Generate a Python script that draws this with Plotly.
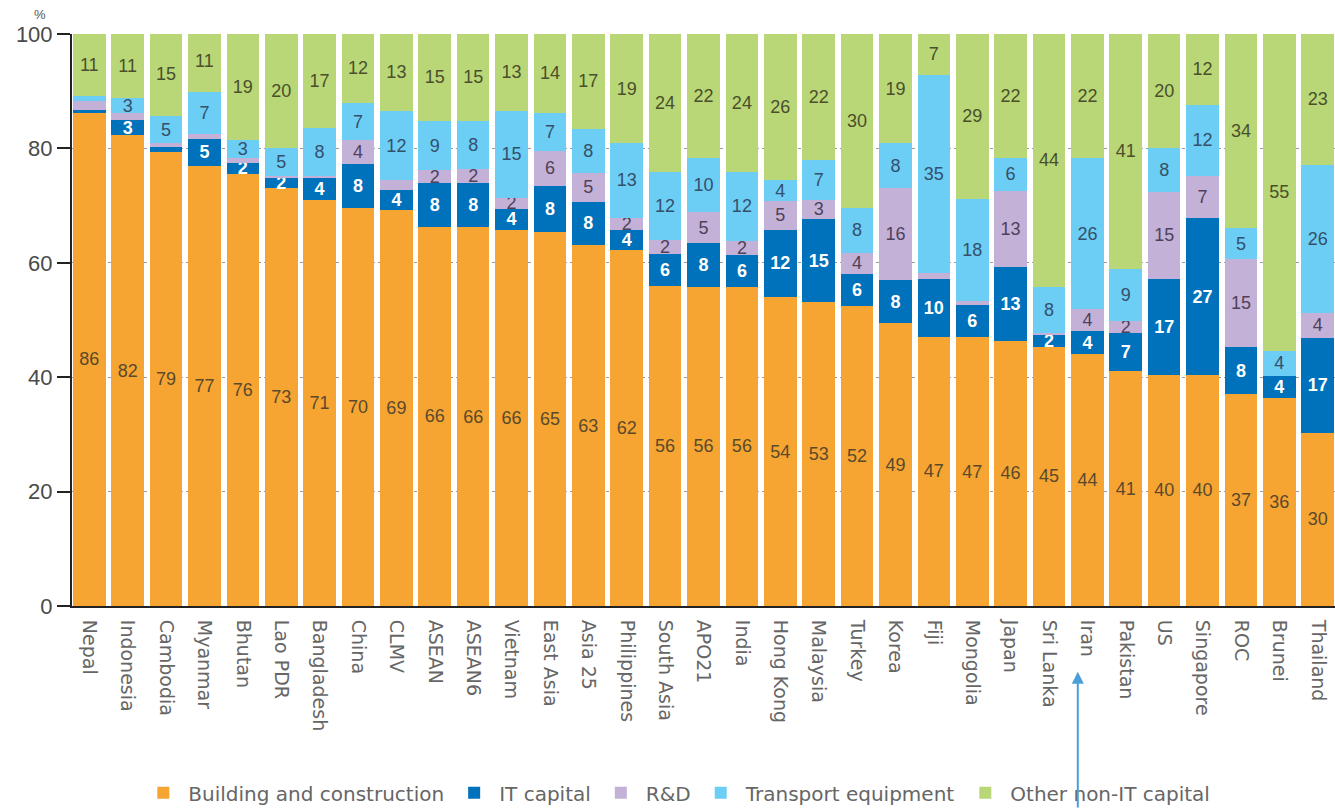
import plotly.graph_objects as go

categories = ["Nepal", "Indonesia", "Cambodia", "Myanmar", "Bhutan", "Lao PDR", "Bangladesh",
              "China", "CLMV", "ASEAN", "ASEAN6", "Vietnam", "East Asia", "Asia 25", "Philippines",
              "South Asia", "APO21", "India", "Hong Kong", "Malaysia", "Turkey", "Korea", "Fiji",
              "Mongolia", "Japan", "Sri Lanka", "Iran", "Pakistan", "US", "Singapore", "ROC",
              "Brunei", "Thailand"]

building = [86.2, 82.3, 79.3, 77.0, 75.6, 73.0, 70.9, 69.6, 69.2, 66.3, 66.2, 65.8, 65.4, 63.1, 62.2,
            56.0, 55.8, 55.8, 54.0, 53.1, 52.4, 49.4, 47.1, 47.0, 46.4, 45.3, 44.1, 41.0, 40.4, 40.4,
            37.0, 36.4, 30.3]
it_capital = [0.5, 2.7, 0.9, 4.7, 1.9, 1.9, 3.9, 7.6, 3.6, 7.6, 7.8, 3.6, 8.1, 7.6, 3.6,
              5.6, 7.6, 5.6, 11.8, 14.6, 5.6, 7.6, 10.0, 5.6, 12.8, 2.1, 3.9, 6.7, 16.8, 27.4,
              8.3, 3.8, 16.6]
rnd = [1.6, 1.2, 0.7, 0.8, 0.9, 0.3, 0.4, 4.2, 1.6, 2.3, 2.4, 2.0, 6.1, 5.0, 2.1,
       2.4, 5.4, 2.4, 5.0, 3.3, 3.8, 16.0, 1.2, 0.8, 13.3, 0.3, 3.9, 2.1, 15.2, 7.4,
       15.4, 0.0, 4.4]
transport = [0.9, 2.6, 4.8, 7.4, 3.0, 4.9, 8.3, 6.6, 12.2, 8.6, 8.4, 15.2, 6.6, 7.7, 13.0,
             11.8, 9.6, 12.1, 3.6, 7.0, 7.8, 7.9, 34.6, 17.8, 5.9, 8.1, 26.4, 9.2, 7.6, 12.4,
             5.3, 4.4, 25.8]
other = [10.8, 11.2, 14.6, 10.6, 18.6, 19.9, 16.6, 12.0, 13.4, 15.2, 15.2, 13.4, 13.8, 16.6, 19.1,
         24.2, 21.6, 24.1, 25.6, 22.0, 30.4, 19.1, 7.1, 28.8, 21.6, 44.2, 21.7, 41.0, 20.0, 12.4,
         34.0, 55.4, 22.9]

series_names = ["Building and construction", "IT capital", "R&D", "Transport equipment",
                "Other non-IT capital"]
series_values = [building, it_capital, rnd, transport, other]
series_colors = ["#F7A532", "#0071BB", "#C4B1D8", "#6CCDF5", "#B9D777"]
label_colors = ["#5a4a2c", "#FFFFFF", "#4e4258", "#34506a", "#4a4f2c"]

NARROW = "Liberation Sans Narrow, Arial Narrow, sans-serif"
WIDE = "DejaVu Sans, Open Sans, sans-serif"

fig = go.Figure()
for name, vals, col, lcol in zip(series_names, series_values, series_colors, label_colors):
    texts = [f"{v:.0f}" if v >= 1.8 else "" for v in vals]
    fig.add_trace(go.Bar(
        x=categories, y=vals, name=name,
        marker=dict(color=col, line=dict(width=0)),
        text=texts, textposition="inside", insidetextanchor="middle", textangle=0,
        textfont=dict(family=NARROW, size=18, color=lcol,
                      weight="bold" if name == "IT capital" else "normal"),
        hoverinfo="x+y+name",
    ))

arrow_target = categories.index("Iran") - 0.25

fig.update_layout(
    barmode="stack",
    bargap=0.15,
    width=1335, height=809,
    margin=dict(l=72, r=0, t=34, b=203),
    paper_bgcolor="white", plot_bgcolor="white",
    uniformtext=dict(mode="show", minsize=18),
    font=dict(family=WIDE, color="#444"),
    showlegend=True,
    legend=dict(orientation="h", x=0.0525, xanchor="left", xref="paper",
                y=0.02, yanchor="middle", yref="container",
                font=dict(family=WIDE, size=20, color="#666"),
                traceorder="normal", itemwidth=40),
    xaxis=dict(
        range=[-0.45, len(categories) - 0.55], automargin=False,
        tickangle=90, tickfont=dict(family=WIDE, size=19, color="#666"),
        ticklabelstandoff=8,
        showline=True, linecolor="#222", linewidth=2, ticks="", showgrid=False,
    ),
    yaxis=dict(
        range=[0, 100], tickvals=[0, 20, 40, 60, 80, 100], automargin=False,
        tickfont=dict(family=NARROW, size=22, color="#4a4a4a"),
        showline=True, linecolor="#222", linewidth=2, ticks="outside", ticklen=13,
        tickwidth=2, tickcolor="#222", showgrid=True, gridcolor="#9a9a9a", griddash="dot",
        gridwidth=1, zeroline=False,
    ),
    annotations=[
        dict(text="%", xref="paper", yref="paper", x=-0.025, y=1.017, showarrow=False,
             font=dict(family=NARROW, size=13, color="#555"), xanchor="center", yanchor="bottom"),
        dict(x=arrow_target, y=-0.115, xref="x", yref="paper", text="", showarrow=True,
             arrowhead=2, arrowsize=1.2, arrowwidth=2, arrowcolor="#4A9FD8",
             ax=0, ay=140, axref="pixel", ayref="pixel"),
    ],
)

fig.write_html("out.html", config={"displayModeBar": False},
               post_script="document.body.style.margin='0';document.body.style.overflow='hidden';")
